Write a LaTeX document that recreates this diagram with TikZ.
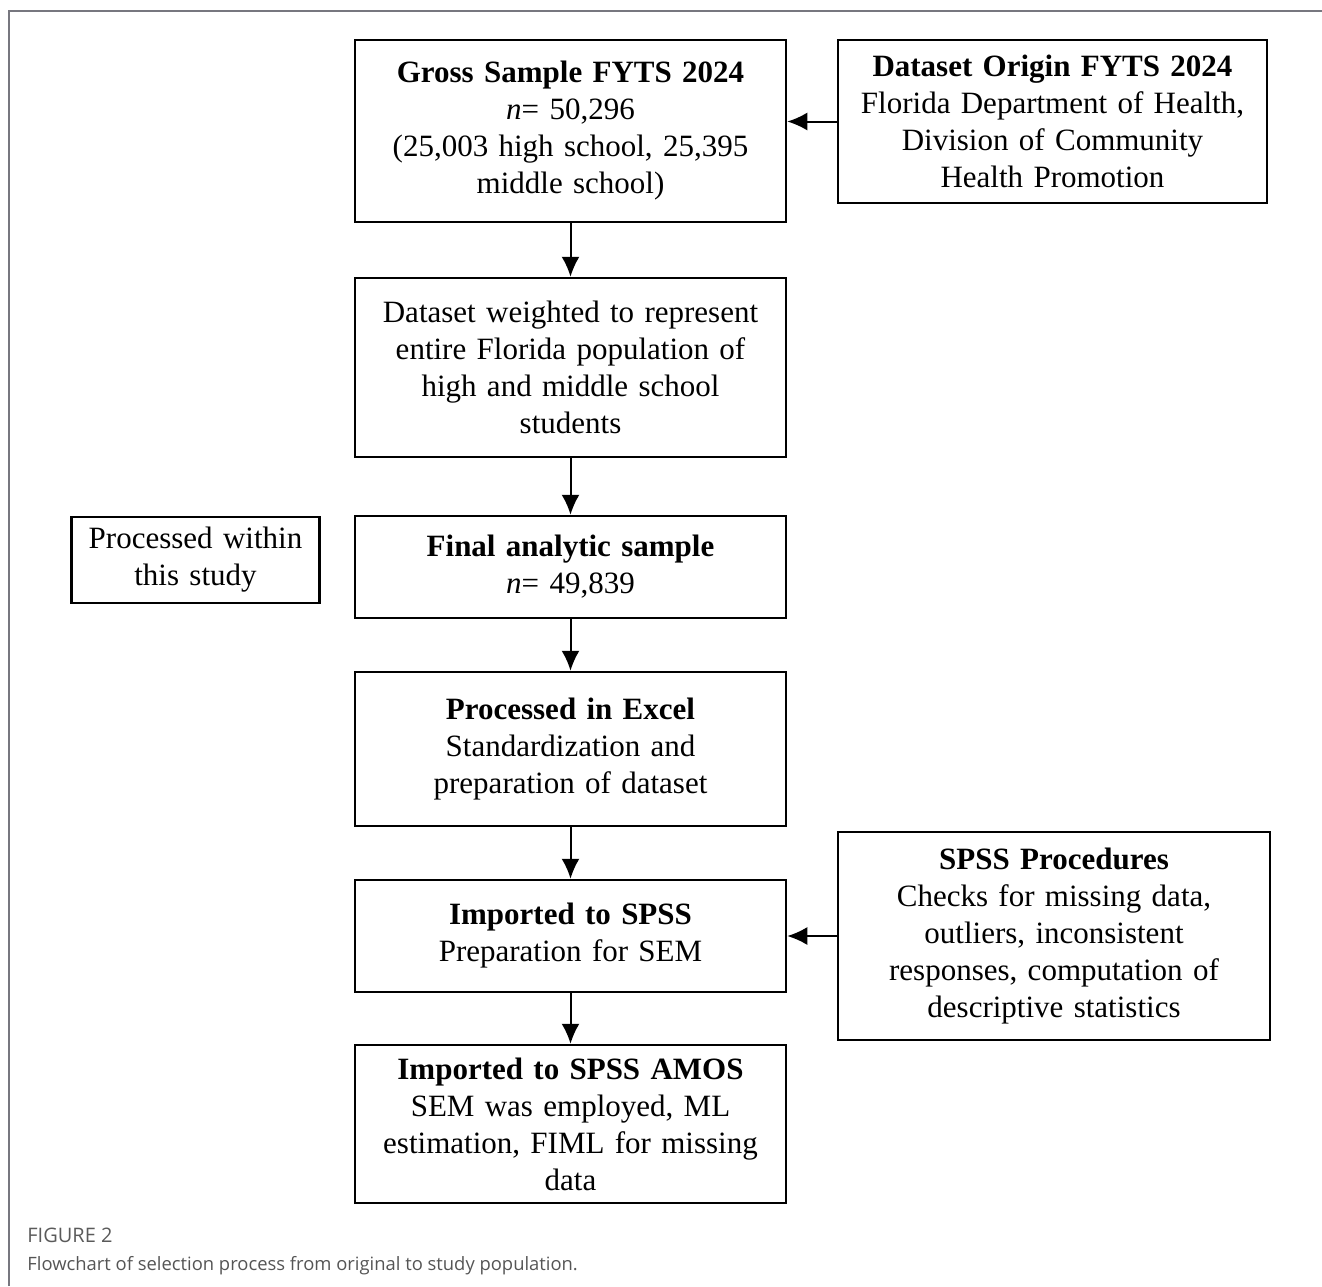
\documentclass[tikz,border=0pt]{standalone}
\usepackage{fontspec}
\setmainfont{Liberation Serif}
\newfontfamily\capfont{Open Sans}
\usepackage{tikz}
\usetikzlibrary{shapes,arrows,arrows.meta}
\definecolor{framegray}{HTML}{77777F}
\definecolor{capgray}{HTML}{555555}
\definecolor{labelgray}{HTML}{5A5A5A}
\tikzstyle{block} = [rectangle, draw, line width=1.25pt, text centered, inner xsep=3pt, minimum
width=215.5pt, text width=207pt, font=\fontsize{15.5pt}{18.5pt}\selectfont]
\tikzstyle{note} = [block, minimum width=124pt, text width=116pt]
\tikzstyle{line} = [draw, line width=1pt, -{Latex[length=10pt,width=9pt]}]
\tikzstyle{caption} = [anchor=base west, inner sep=0pt, text=capgray]

\begin{document}
\begin{tikzpicture}[x=0.5pt, y=-0.5pt, node distance=2cm]
			\useasboundingbox (0,0) rectangle (1322,1286);
			\draw [framegray, line width=1pt] (9,1286) -- (9,11) -- (1322,11);
			\node [block, minimum height=91pt] (gross) at (570.5,131) {\textbf{Gross Sample FYTS 2024}\\ \textit{n}= 50,296\\ (25,003 high school, 25,395\\ middle school)};
			\node [block, right of=gross, node distance=241pt, yshift=4.75pt, minimum width=214.5pt, minimum height=81.5pt] (origin)
			{\textbf{Dataset Origin FYTS 2024}\\ Florida Department of Health,\\ Division of Community\\ Health Promotion};
			\node [block, below of=gross, node distance=118.25pt, minimum height=89.5pt] (weighted) {Dataset weighted to represent\\ entire Florida population of\\ high and middle school\\ students};
			\node [block, below of=weighted, node distance=99.75pt, minimum height=51pt] (final) {\textbf{Final analytic sample}\\ \textit{n}= 49,839};
			\node [note, left of=final, node distance=187.5pt, yshift=3.5pt, minimum height=43pt] (within) {Processed within\\ this study};
			\node [block, below of=final, node distance=91pt, minimum height=77pt] (excel) {\textbf{Processed in Excel}\\ Standardization and\\ preparation of dataset};
			\node [block, below of=excel, node distance=93.5pt, minimum height=56pt] (spss) {\textbf{Imported to SPSS}\\ Preparation for SEM};
			\node [block, right of=spss, node distance=241.75pt, minimum width=216pt, minimum height=104pt] (procedures)
			{\textbf{SPSS Procedures}\\ Checks for missing data,\\ outliers, inconsistent\\ responses, computation of\\ descriptive statistics};
			\node [block, below of=spss, node distance=94pt, minimum height=79pt] (amos) {\textbf{Imported to SPSS AMOS}\\ SEM was employed, ML\\ estimation, FIML for missing\\ data};
			\path [line] (gross) -- (weighted);
			\path [line] (weighted) -- (final);
			\path [line] (final) -- (excel);
			\path [line] (excel) -- (spss);
			\path [line] (spss) -- (amos);
			\path [line] (origin.west) -- (origin.west -| gross.east);
			\path [line] (procedures.west) -- (procedures.west -| spss.east);
			\node [caption, text=labelgray, font=\capfont\fontsize{10pt}{12pt}\selectfont] (figlabel) at (27,1242) {FIGURE 2};
			\node [caption, font=\capfont\fontsize{9.2pt}{11pt}\selectfont] (figcaption) at (27,1270) {Flowchart of selection process from original to study population.};
		\end{tikzpicture}
\end{document}
